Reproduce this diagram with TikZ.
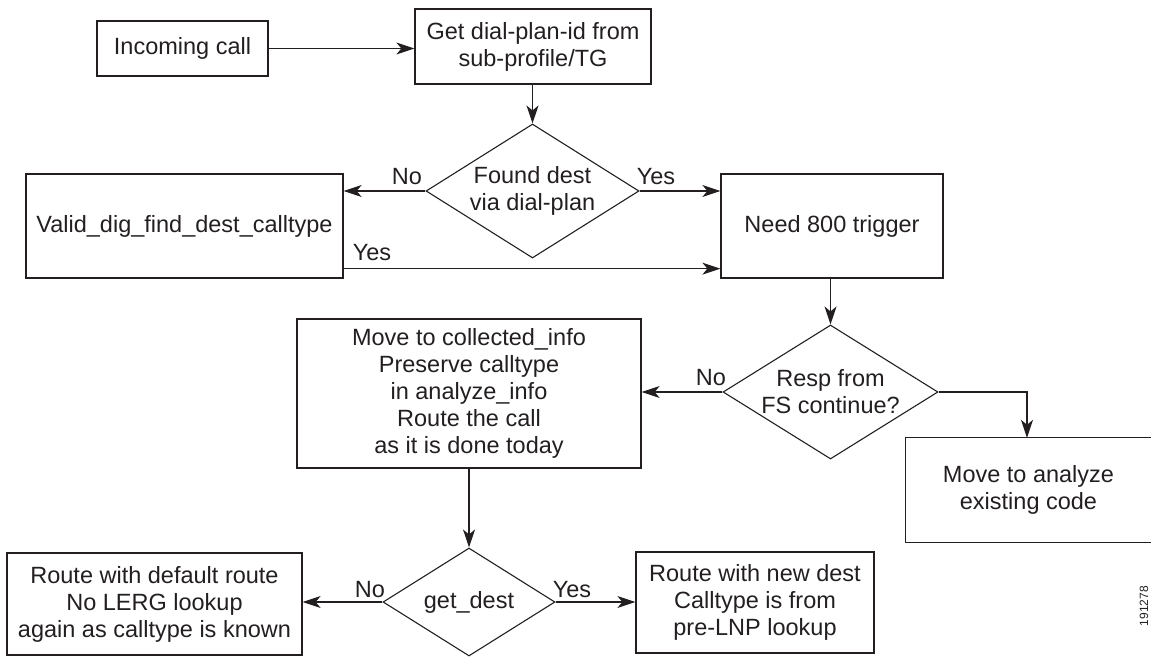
\documentclass[tikz,border=0pt]{standalone}
\usepackage{fontspec}
\setmainfont{Liberation Sans}
\usetikzlibrary{arrows.meta,shapes.geometric}
\definecolor{ink}{HTML}{231F20}
\begin{document}
\begin{tikzpicture}[x=1pt,y=-1pt,
  every node/.style={text=ink},
  txt/.style={font=\fontsize{23.5}{27}\selectfont, align=center, inner sep=0pt},
  box/.style={txt, draw=ink, line width=1.3pt, rectangle},
  dec/.style={draw=ink, line width=1.1pt, diamond, inner sep=0pt},
  dtxt/.style={txt},
  lbl/.style={font=\fontsize{23.5}{27}\selectfont, inner sep=0pt},
  arr/.style={draw=ink, line width=1.1pt, -{Stealth[length=18pt,width=12pt,inset=5pt]}},
  ln/.style={draw=ink, line width=1.3pt}
]
\useasboundingbox (0,0) rectangle (1151,656);

% boxes
\node[box, minimum width=171pt, minimum height=55pt] (inc) at (182.5,48.5) {Incoming call};
\node[box, minimum width=236pt, minimum height=75pt] (get) at (533,46.5) {Get dial-plan-id from\\sub-profile/TG};
\node[box, minimum width=317pt, minimum height=104pt] (valid) at (184.5,226) {Valid\_dig\_find\_dest\_calltype};
\node[box, minimum width=222pt, minimum height=104pt] (need) at (832,226) {Need 800 trigger};
\node[box, minimum width=344pt, minimum height=149pt] (move) at (469,393.5) {Move to collected\_info\\Preserve calltype\\in analyze\_info\\Route the call\\as it is done today};
\node[txt, minimum width=245pt, minimum height=104pt] (analyze) at (1028.5,490) {Move to analyze\\existing code};
\draw[ln] (analyze.north east) -- (analyze.north west) -- (analyze.south west) -- (analyze.south east);
\node[box, minimum width=295pt, minimum height=102pt] (deflt) at (154.5,604) {Route with default route\\No LERG lookup\\again as calltype is known};
\node[box, minimum width=238pt, minimum height=101pt] (newd) at (755,602.5) {Route with new dest\\Calltype is from\\pre-LNP lookup};

% decisions
\node[dec, minimum width=213pt, minimum height=134pt] (d1) at (532.5,191) {};
\node[dtxt] (d1t) at (d1.center) {Found dest\\via dial-plan};
\node[dec, minimum width=215pt, minimum height=134pt] (d2) at (830.5,392) {};
\node[dtxt] (d2t) at (d2.center) {Resp from\\FS continue?};
\node[dec, minimum width=172pt, minimum height=108pt] (d3) at (469,602) {};
\node[dtxt] (d3t) at (d3.center) {get\_dest};

% connectors
\draw[arr] (inc.east) -- (get.west |- inc.east);
\draw[arr] (get.south -| d1.north) -- (d1.north);
\draw[arr] (d1.west) -- (valid.east |- d1.west);
\draw[arr] (d1.east) -- (need.west |- d1.east);
\draw[arr] ([yshift=10pt]valid.south east) -- ([yshift=10pt]need.south west);
\draw[arr] (need.south -| d2.north) -- (d2.north);
\draw[arr] (d2.west) -- (move.east |- d2.west);
\draw[arr] (d2.east) -| ([xshift=-1.5pt]analyze.north);
\draw[arr] (move.south -| d3.north) -- (d3.north);
\draw[arr] (d3.west) -- (deflt.east |- d3.west);
\draw[arr] (d3.east) -- (newd.west |- d3.east);

% labels
\node[lbl] (no1) at (407,177) {No};
\node[lbl] (yes1) at (656,177) {Yes};
\node[lbl] (yes2) at (372,253) {Yes};
\node[lbl] (no2) at (711,378) {No};
\node[lbl] (no3) at (370,590) {No};
\node[lbl] (yes3) at (572,590) {Yes};
\node[font=\fontsize{12}{14}\selectfont, rotate=90, inner sep=0pt] (num) at (1144,606) {191278};
\end{tikzpicture}
\end{document}
